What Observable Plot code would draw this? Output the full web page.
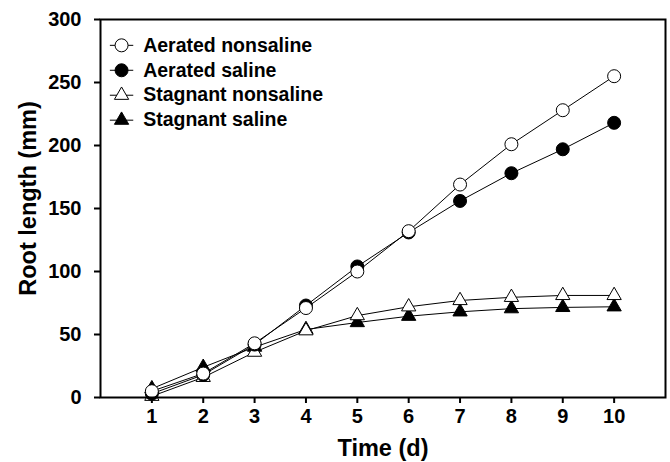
<!DOCTYPE html>
<html><head><meta charset="utf-8">
<script src="https://cdn.jsdelivr.net/npm/d3@7"></script>
<script src="https://cdn.jsdelivr.net/npm/@observablehq/plot@0.6"></script>
<style>body{margin:0;background:#fff}</style>
</head><body><div id="chart"></div>
<script>
const days = [1, 2, 3, 4, 5, 6, 7, 8, 9, 10];
const aeratedNonsaline = [5, 19, 43, 71, 100, 132, 169, 201, 228, 255];
const aeratedSaline = [3, 18, 42, 73, 104, 131, 156, 178, 197, 218];
const stagnantNonsaline = [1, 16, 36, 53, 65, 72, 77, 79.5, 81, 81];
const stagnantSaline = [7, 24, 40, 54, 59.5, 64.5, 68, 70.5, 71.5, 72];
const seriesNames = ["Aerated nonsaline", "Aerated saline", "Stagnant nonsaline", "Stagnant saline"];
const xTicks = [1, 2, 3, 4, 5, 6, 7, 8, 9, 10];
const yTicks = [0, 50, 100, 150, 200, 250, 300];

const series = [
  {name: seriesNames[0], values: aeratedNonsaline, symbol: "circle", fill: "white"},
  {name: seriesNames[1], values: aeratedSaline, symbol: "circle", fill: "black"},
  {name: seriesNames[2], values: stagnantNonsaline, symbol: "triangle", fill: "white"},
  {name: seriesNames[3], values: stagnantSaline, symbol: "triangle", fill: "black"}
];
// drawing order: triangles below circles, open above filled
const drawOrder = [3, 2, 1, 0];

const marks = [];
for (const k of drawOrder) {
  const s = series[k];
  const data = days.map((d, i) => ({day: d, value: s.values[i]}));
  marks.push(Plot.line(data, {x: "day", y: "value", stroke: "black", strokeWidth: 1}));
  marks.push(Plot.dot(data, {x: "day", y: "value", symbol: () => s.symbol, fill: s.fill, stroke: "black", strokeWidth: 1, r: s.symbol === "circle" ? 6.5 : 5.3}));
}

// legend (inside the plot, upper left) in data space
const legend = series.map((s, i) => ({...s, ly: 279.5 - 19.8 * i}));
const legendLines = legend.flatMap(s => [{x: 0.19, y: s.ly, name: s.name}, {x: 0.63, y: s.ly, name: s.name}]);
marks.push(Plot.line(legendLines, {x: "x", y: "y", z: "name", stroke: "black", strokeWidth: 1}));
for (const s of legend) {
  marks.push(Plot.dot([s], {x: () => 0.41, y: "ly", symbol: () => s.symbol, fill: s.fill, stroke: "black", strokeWidth: 1, r: s.symbol === "circle" ? 6.5 : 5.3}));
}
marks.push(Plot.text(legend, {x: () => 0.83, y: "ly", text: "name", textAnchor: "start", fontSize: 19.5, fontWeight: "bold", fill: "black"}));

const chart = Plot.plot({
  width: 670,
  height: 462,
  marginLeft: 100,
  marginRight: 5,
  marginTop: 19,
  marginBottom: 65,
  style: {fontFamily: "'Liberation Sans', Arial, sans-serif", background: "white", color: "black"},
  x: {domain: [0, 11]},
  y: {domain: [0, 300]},
  marks: [
    Plot.axisX({ticks: xTicks, tickSize: 6, tickPadding: 5, fontSize: 20, fontWeight: "bold", strokeWidth: 2, label: null}),
    Plot.axisY({ticks: yTicks, tickSize: 6, tickPadding: 13, fontSize: 20, fontWeight: "bold", strokeWidth: 2, label: null}),
    ...marks,
    Plot.frame({stroke: "black", strokeWidth: 2}),
    Plot.text(["Time (d)"], {frameAnchor: "bottom", lineAnchor: "middle", dy: 51, fontSize: 23.5, fontWeight: "bold", fill: "black"}),
    Plot.text(["Root length (mm)"], {frameAnchor: "left", textAnchor: "middle", lineAnchor: "middle", dx: -72, dy: -10, rotate: -90, fontSize: 23.5, fontWeight: "bold", fill: "black"})
  ]
});
document.getElementById("chart").appendChild(chart);
</script>
</body></html>
